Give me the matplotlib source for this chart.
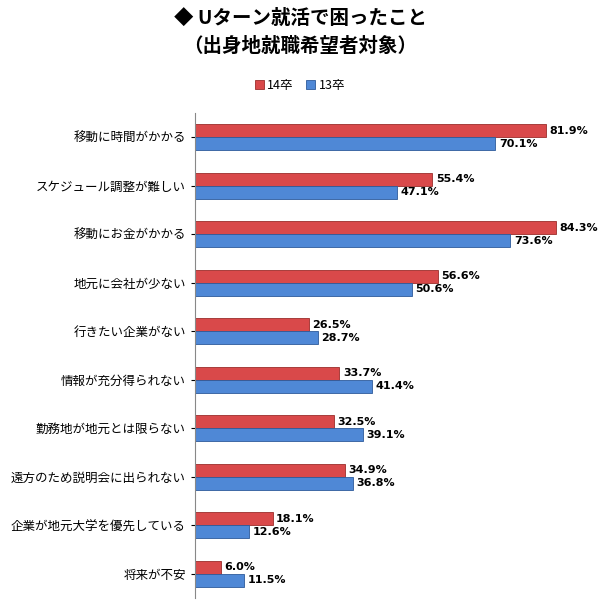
import matplotlib
matplotlib.use("Agg")
import matplotlib.pyplot as plt
import numpy as np

plt.rcParams["font.family"] = "Noto Sans CJK JP"

categories = ["移動に時間がかかる", "スケジュール調整が難しい", "移動にお金がかかる", "地元に会社が少ない",
              "行きたい企業がない", "情報が充分得られない", "勤務地が地元とは限らない",
              "遠方のため説明会に出られない", "企業が地元大学を優先している", "将来が不安"]
s14 = [81.9, 55.4, 84.3, 56.6, 26.5, 33.7, 32.5, 34.9, 18.1, 6.0]
s13 = [70.1, 47.1, 73.6, 50.6, 28.7, 41.4, 39.1, 36.8, 12.6, 11.5]
labels = ["14卒", "13卒"]

fig = plt.figure(figsize=(6.0, 6.06), dpi=100)
ax = fig.add_axes([195/600, 1-598/606, 405/600, (598-113)/606])
y = np.arange(len(categories))
h = 0.27
ax.barh(y - h/2, s14, height=h, color="#D9494A", edgecolor="#9B2D2B", linewidth=0.6, label=labels[0])
ax.barh(y + h/2, s13, height=h, color="#4F88D6", edgecolor="#2E5A9A", linewidth=0.6, label=labels[1])
for i in range(len(categories)):
    ax.text(s14[i] + 0.8, y[i] - h/2, f"{s14[i]:.1f}%", va="center", fontsize=8, fontweight="bold", family="DejaVu Sans")
    ax.text(s13[i] + 0.8, y[i] + h/2, f"{s13[i]:.1f}%", va="center", fontsize=8, fontweight="bold", family="DejaVu Sans")
ax.set_ylim(len(categories) - 0.5, -0.5)
ax.set_xlim(0, 94.5)
ax.set_yticks(y)
ax.set_yticklabels(categories, fontsize=9)
ax.tick_params(axis="y", length=3)
ax.set_xticks([])
for s in ["top", "right", "bottom"]:
    ax.spines[s].set_visible(False)
ax.spines["left"].set_color("#888888")
fig.text(0.5, 1-18/606, "◆ Uターン就活で困ったこと", ha="center", va="center", fontsize=14, fontweight="bold")
fig.text(0.5, 1-46/606, "（出身地就職希望者対象）", ha="center", va="center", fontsize=14, fontweight="bold")
fig.legend(loc="center", bbox_to_anchor=(0.5, 1-85/606), ncol=2, frameon=False, fontsize=9,
           handlelength=0.7, handleheight=0.7, columnspacing=1.0, handletextpad=0.3)
fig.savefig("out.png", dpi=100, facecolor="white")
